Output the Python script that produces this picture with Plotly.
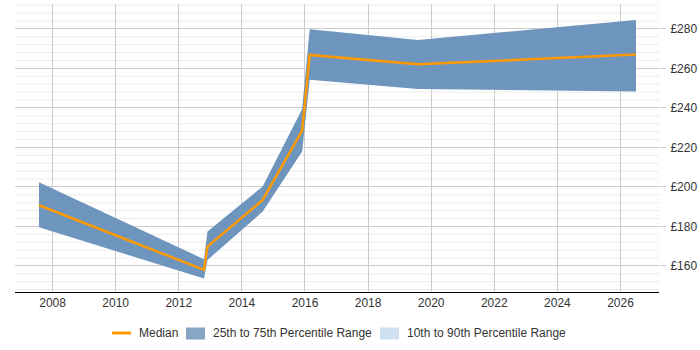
import plotly.graph_objects as go

years = [2007.57, 2012.80, 2012.91, 2014.66, 2015.91, 2016.15, 2019.58, 2026.49]
median = [190.7, 158.0, 169.8, 193.4, 228.5, 266.8, 262.1, 267.0]
p75 = [202.4, 163.4, 177.4, 200.2, 239.5, 279.8, 274.4, 284.5]
p25 = [179.6, 153.6, 163.0, 187.5, 217.9, 254.2, 249.6, 248.3]
x_ticks = list(range(2008, 2027, 2))
y_ticks = list(range(160, 281, 20))
y_tick_labels = ["£%d" % v for v in y_ticks]
legend_labels = ["Median", "25th to 75th Percentile Range", "10th to 90th Percentile Range"]

band_color = "rgb(110,149,189)"
band_legend_color = "rgb(135,165,196)"
light_color = "rgb(207,224,240)"
median_color = "#FF9900"

W, H = 700, 350
ML, MR, MT, MB = 15, 41, 4, 58
PW, PH = W - ML - MR, H - MT - MB


def px(x):
    return (x - ML) / PW


def py(y):
    return (H - MB - y) / PH


fig = go.Figure()
fig.add_trace(go.Scatter(
    x=years + years[::-1], y=p75 + p25[::-1],
    fill="toself", fillcolor=band_color, mode="lines",
    line=dict(width=0, color=band_color), showlegend=False,
    name=legend_labels[1], hoverinfo="skip"))
fig.add_trace(go.Scatter(
    x=years, y=median, mode="lines",
    line=dict(color=median_color, width=2.5), showlegend=False,
    name=legend_labels[0]))

shapes = []
for v in range(148, 293, 4):
    if v % 20 != 0:
        shapes.append(dict(type="line", xref="paper", x0=0, x1=1, yref="y", y0=v, y1=v,
                           line=dict(color="#ececec", width=1), layer="below"))

# custom legend
ly = 333
shapes.append(dict(type="line", xref="paper", yref="paper", x0=px(112), x1=px(131),
                   y0=py(ly), y1=py(ly), line=dict(color=median_color, width=3)))
shapes.append(dict(type="rect", xref="paper", yref="paper", x0=px(186), x1=px(205),
                   y0=py(339.5), y1=py(327.5), fillcolor=band_legend_color, line=dict(width=0)))
shapes.append(dict(type="rect", xref="paper", yref="paper", x0=px(380), x1=px(399),
                   y0=py(339.5), y1=py(327.5), fillcolor=light_color, line=dict(width=0)))
annotations = []
for lx, txt in zip([137, 211, 405], legend_labels):
    annotations.append(dict(xref="paper", yref="paper", x=px(lx), y=py(ly), text=txt,
                            showarrow=False, xanchor="left", yanchor="middle",
                            font=dict(size=12, color="#333")))

fig.update_layout(
    width=W, height=H,
    margin=dict(l=ML, r=MR, t=MT, b=MB, autoexpand=False),
    plot_bgcolor="white", paper_bgcolor="white",
    font=dict(family="Liberation Sans, Arial, sans-serif", size=12, color="#333"),
    shapes=shapes, annotations=annotations,
    showlegend=False,
    xaxis=dict(range=[2006.81, 2027.22], tickmode="array", tickvals=x_ticks,
               ticktext=[str(t) for t in x_ticks],
               showgrid=True, gridcolor="#cccccc", gridwidth=1,
               showline=True, linecolor="#000", linewidth=1,
               ticks="", zeroline=False, tickfont=dict(size=12, color="#333")),
    yaxis=dict(range=[146.8, 292.6], side="right", tickmode="array",
               tickvals=y_ticks, ticktext=y_tick_labels,
               showgrid=True, gridcolor="#cccccc", gridwidth=1,
               showline=False, zeroline=False, ticks="outside", ticklen=6,
               tickcolor="#cccccc", ticklabelstandoff=2,
               tickfont=dict(size=12, color="#333")),
)

fig.write_html("out.html")
